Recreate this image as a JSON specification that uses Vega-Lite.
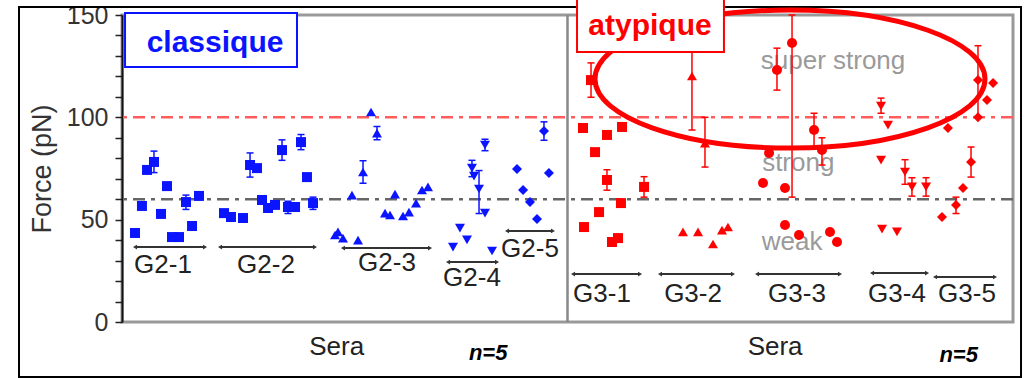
{
  "$schema": "https://vega.github.io/schema/vega-lite/v6.json",
  "width": 891,
  "height": 307,
  "autosize": {"type": "none"},
  "padding": {"left": 122, "top": 15, "right": 13, "bottom": 56},
  "background": "white",
  "config": {
    "view": {"stroke": "#999999", "strokeWidth": 3},
    "font": "Liberation Sans",
    "axisX": {"disable": true},
    "axisY": {
      "tickCount": 15,
      "labelExpr": "datum.value % 50 === 0 ? datum.label : ''",
      "labelOverlap": false, "labelFlush": false, "labelBound": false,
      "grid": false, "domainColor": "#111111", "domainWidth": 2,
      "tickColor": "#222222", "tickWidth": 1.5, "tickSize": 7,
      "labelFontSize": 25, "labelColor": "#333333", "labelPadding": 7,
      "titleFontSize": 27, "titleFontWeight": "normal", "titleColor": "#333333", "titlePadding": 10
    }
  },
  "datasets": {
    "pts": [
      {"g": "G2-1", "s": "G2", "x": 1.46, "y": 43.5},
      {"g": "G2-1", "s": "G2", "x": 2.24, "y": 56.7},
      {"g": "G2-1", "s": "G2", "x": 2.81, "y": 74.3},
      {"g": "G2-1", "s": "G2", "x": 3.59, "y": 78.2, "lo": 73, "hi": 83.5},
      {"g": "G2-1", "s": "G2", "x": 5.05, "y": 66.4},
      {"g": "G2-1", "s": "G2", "x": 4.38, "y": 52.8},
      {"g": "G2-1", "s": "G2", "x": 5.61, "y": 41.5},
      {"g": "G2-1", "s": "G2", "x": 6.4, "y": 41.5},
      {"g": "G2-1", "s": "G2", "x": 7.18, "y": 58.6, "lo": 55, "hi": 62},
      {"g": "G2-1", "s": "G2", "x": 7.86, "y": 46.9},
      {"g": "G2-1", "s": "G2", "x": 8.64, "y": 61.6},
      {"g": "G2-2", "s": "G2", "x": 11.45, "y": 53.2},
      {"g": "G2-2", "s": "G2", "x": 12.23, "y": 51.3},
      {"g": "G2-2", "s": "G2", "x": 13.58, "y": 50.8},
      {"g": "G2-2", "s": "G2", "x": 14.37, "y": 76.7, "lo": 70.8, "hi": 82.6},
      {"g": "G2-2", "s": "G2", "x": 15.15, "y": 75.2},
      {"g": "G2-2", "s": "G2", "x": 15.71, "y": 59.6},
      {"g": "G2-2", "s": "G2", "x": 16.39, "y": 55.7},
      {"g": "G2-2", "s": "G2", "x": 17.17, "y": 57.2},
      {"g": "G2-2", "s": "G2", "x": 17.96, "y": 84.0, "lo": 79, "hi": 89},
      {"g": "G2-2", "s": "G2", "x": 18.63, "y": 56.2, "lo": 53, "hi": 59},
      {"g": "G2-2", "s": "G2", "x": 19.42, "y": 56.2},
      {"g": "G2-2", "s": "G2", "x": 20.09, "y": 87.9, "lo": 84.2, "hi": 91.6},
      {"g": "G2-2", "s": "G2", "x": 20.76, "y": 70.8},
      {"g": "G2-2", "s": "G2", "x": 21.44, "y": 58.1, "lo": 55, "hi": 61},
      {"g": "G2-3", "s": "G2", "x": 23.91, "y": 42.5},
      {"g": "G2-3", "s": "G2", "x": 24.24, "y": 44},
      {"g": "G2-3", "s": "G2", "x": 24.8, "y": 41},
      {"g": "G2-3", "s": "G2", "x": 26.49, "y": 40},
      {"g": "G2-3", "s": "G2", "x": 25.81, "y": 62},
      {"g": "G2-3", "s": "G2", "x": 27.05, "y": 73.3, "lo": 67.8, "hi": 78.8},
      {"g": "G2-3", "s": "G2", "x": 27.95, "y": 102.6},
      {"g": "G2-3", "s": "G2", "x": 28.62, "y": 92.3, "lo": 89, "hi": 95.5},
      {"g": "G2-3", "s": "G2", "x": 29.52, "y": 53.2},
      {"g": "G2-3", "s": "G2", "x": 30.08, "y": 52.3},
      {"g": "G2-3", "s": "G2", "x": 30.64, "y": 62.5},
      {"g": "G2-3", "s": "G2", "x": 31.54, "y": 51.8},
      {"g": "G2-3", "s": "G2", "x": 32.21, "y": 53.7},
      {"g": "G2-3", "s": "G2", "x": 33.0, "y": 58.1},
      {"g": "G2-3", "s": "G2", "x": 33.67, "y": 64.5},
      {"g": "G2-3", "s": "G2", "x": 34.34, "y": 66},
      {"g": "G2-4", "s": "G2", "x": 37.15, "y": 36.6},
      {"g": "G2-4", "s": "G2", "x": 37.93, "y": 45.9},
      {"g": "G2-4", "s": "G2", "x": 38.72, "y": 40.1},
      {"g": "G2-4", "s": "G2", "x": 39.28, "y": 75.2, "lo": 71, "hi": 79},
      {"g": "G2-4", "s": "G2", "x": 39.51, "y": 71.3},
      {"g": "G2-4", "s": "G2", "x": 40.07, "y": 65.0, "lo": 53, "hi": 74},
      {"g": "G2-4", "s": "G2", "x": 40.74, "y": 53.2},
      {"g": "G2-4", "s": "G2", "x": 40.74, "y": 86.5, "lo": 83.7, "hi": 89.3},
      {"g": "G2-4", "s": "G2", "x": 41.53, "y": 34.7},
      {"g": "G2-5", "s": "G2", "x": 44.33, "y": 74.7},
      {"g": "G2-5", "s": "G2", "x": 45.01, "y": 64.5},
      {"g": "G2-5", "s": "G2", "x": 45.79, "y": 58.6},
      {"g": "G2-5", "s": "G2", "x": 46.58, "y": 50.3},
      {"g": "G2-5", "s": "G2", "x": 47.36, "y": 93.3, "lo": 88.8, "hi": 97.8},
      {"g": "G2-5", "s": "G2", "x": 47.92, "y": 72.8},
      {"g": "G3-1", "s": "G3", "x": 52.64, "y": 118.2, "lo": 109.8, "hi": 126.6},
      {"g": "G3-1", "s": "G3", "x": 51.74, "y": 94.8},
      {"g": "G3-1", "s": "G3", "x": 54.43, "y": 91.4},
      {"g": "G3-1", "s": "G3", "x": 56.12, "y": 95.3},
      {"g": "G3-1", "s": "G3", "x": 53.09, "y": 83.0},
      {"g": "G3-1", "s": "G3", "x": 54.43, "y": 69.4, "lo": 64.4, "hi": 74.4},
      {"g": "G3-1", "s": "G3", "x": 58.59, "y": 66, "lo": 61, "hi": 71},
      {"g": "G3-1", "s": "G3", "x": 51.85, "y": 46.4},
      {"g": "G3-1", "s": "G3", "x": 53.54, "y": 53.7},
      {"g": "G3-1", "s": "G3", "x": 56.0, "y": 58.1},
      {"g": "G3-1", "s": "G3", "x": 54.99, "y": 39.1},
      {"g": "G3-1", "s": "G3", "x": 55.67, "y": 41.0},
      {"g": "G3-2", "s": "G3", "x": 63.97, "y": 120.2, "lo": 93.8, "hi": 132.8},
      {"g": "G3-2", "s": "G3", "x": 65.43, "y": 87.4, "lo": 75.7, "hi": 100},
      {"g": "G3-2", "s": "G3", "x": 62.96, "y": 44},
      {"g": "G3-2", "s": "G3", "x": 64.65, "y": 44},
      {"g": "G3-2", "s": "G3", "x": 66.33, "y": 38.1},
      {"g": "G3-2", "s": "G3", "x": 67.34, "y": 44.9},
      {"g": "G3-2", "s": "G3", "x": 68.01, "y": 46.4},
      {"g": "G3-3", "s": "G3", "x": 75.2, "y": 136.3, "lo": 61, "hi": 150},
      {"g": "G3-3", "s": "G3", "x": 73.51, "y": 123.1, "lo": 113.3, "hi": 133.8},
      {"g": "G3-3", "s": "G3", "x": 72.62, "y": 82.6},
      {"g": "G3-3", "s": "G3", "x": 71.94, "y": 67.9},
      {"g": "G3-3", "s": "G3", "x": 74.41, "y": 65.5},
      {"g": "G3-3", "s": "G3", "x": 74.41, "y": 47.4},
      {"g": "G3-3", "s": "G3", "x": 75.98, "y": 42.5},
      {"g": "G3-3", "s": "G3", "x": 77.67, "y": 93.8, "lo": 85.5, "hi": 102},
      {"g": "G3-3", "s": "G3", "x": 78.56, "y": 84.0, "lo": 76.7, "hi": 90},
      {"g": "G3-3", "s": "G3", "x": 79.46, "y": 44},
      {"g": "G3-3", "s": "G3", "x": 80.25, "y": 39.1},
      {"g": "G3-4", "s": "G3", "x": 85.19, "y": 105.5, "lo": 102, "hi": 109.4},
      {"g": "G3-4", "s": "G3", "x": 85.97, "y": 96.2},
      {"g": "G3-4", "s": "G3", "x": 85.19, "y": 79.1},
      {"g": "G3-4", "s": "G3", "x": 87.88, "y": 73.3, "lo": 67.3, "hi": 79.3},
      {"g": "G3-4", "s": "G3", "x": 88.66, "y": 66, "lo": 61.5, "hi": 70.5},
      {"g": "G3-4", "s": "G3", "x": 90.24, "y": 66, "lo": 61.5, "hi": 70.5},
      {"g": "G3-4", "s": "G3", "x": 85.3, "y": 45.4},
      {"g": "G3-4", "s": "G3", "x": 86.98, "y": 44},
      {"g": "G3-5", "s": "G3", "x": 92.7, "y": 94.8},
      {"g": "G3-5", "s": "G3", "x": 96.07, "y": 118.2, "lo": 100, "hi": 135},
      {"g": "G3-5", "s": "G3", "x": 97.76, "y": 116.8},
      {"g": "G3-5", "s": "G3", "x": 97.08, "y": 108.5},
      {"g": "G3-5", "s": "G3", "x": 96.07, "y": 100.1},
      {"g": "G3-5", "s": "G3", "x": 95.29, "y": 78.2, "lo": 70.8, "hi": 85.5},
      {"g": "G3-5", "s": "G3", "x": 92.03, "y": 51.3},
      {"g": "G3-5", "s": "G3", "x": 93.6, "y": 57.2, "lo": 53, "hi": 61},
      {"g": "G3-5", "s": "G3", "x": 94.39, "y": 65.5}
    ],
    "groups": [
      {"label": "G2-1", "x": 4.6, "y": 27.8, "x1": 1.46, "x2": 9.32, "ly": 36.6},
      {"label": "G2-2", "x": 16.16, "y": 27.8, "x1": 11.0, "x2": 21.66, "ly": 36.6},
      {"label": "G2-3", "x": 29.74, "y": 28.8, "x1": 24.8, "x2": 34.57, "ly": 36.1},
      {"label": "G2-4", "x": 39.28, "y": 21.5, "x1": 36.59, "x2": 42.09, "ly": 29.3},
      {"label": "G2-5", "x": 45.79, "y": 35.7, "x1": 43.21, "x2": 48.37, "ly": 44.5},
      {"label": "G3-1", "x": 53.87, "y": 13.7, "x1": 50.62, "x2": 58.14, "ly": 23.4},
      {"label": "G3-2", "x": 64.09, "y": 13.7, "x1": 60.38, "x2": 68.57, "ly": 23.4},
      {"label": "G3-3", "x": 75.76, "y": 13.7, "x1": 71.27, "x2": 80.58, "ly": 23.4},
      {"label": "G3-4", "x": 86.98, "y": 13.7, "x1": 84.18, "x2": 90.35, "ly": 23.9},
      {"label": "G3-5", "x": 94.84, "y": 13.7, "x1": 91.25, "x2": 97.98, "ly": 22.0}
    ]
  },
  "layer": [
    {
      "data": {"values": [{"x1": -11.56, "x2": 100.9, "y1": 153.9, "y2": -26.9}]},
      "mark": {"type": "rect", "fill": null, "stroke": "#000000", "strokeWidth": 2},
      "encoding": {
        "x": {"field": "x1", "type": "quantitative", "scale": {"domain": [0, 100], "nice": false}},
        "x2": {"field": "x2"},
        "y": {"field": "y1", "type": "quantitative", "scale": {"domain": [0, 150], "nice": false}, "title": "Force (pN)"},
        "y2": {"field": "y2"}
      }
    },
    {
      "data": {"values": [{"v": 100}]},
      "mark": {"type": "rule", "stroke": "#ff5c5c", "strokeWidth": 2.5, "strokeDash": [12, 6, 4, 6]},
      "encoding": {"y": {"field": "v", "type": "quantitative", "title": "Force (pN)"}}
    },
    {
      "data": {"values": [{"v": 60}]},
      "mark": {"type": "rule", "stroke": "#666666", "strokeWidth": 2.5, "strokeDash": [12, 6, 4, 6]},
      "encoding": {"y": {"field": "v", "type": "quantitative", "title": "Force (pN)"}}
    },
    {
      "data": {"values": [{"x": 50, "y1": 0, "y2": 150}]},
      "mark": {"type": "rule", "stroke": "#888888", "strokeWidth": 2.5},
      "encoding": {
        "x": {"field": "x", "type": "quantitative"},
        "y": {"field": "y1", "type": "quantitative", "title": "Force (pN)"},
        "y2": {"field": "y2"}
      }
    },
    {
      "data": {"values": [
        {"t": "super strong", "x": 79.8, "y": 127.5},
        {"t": "strong", "x": 75.9, "y": 77.7},
        {"t": "weak", "x": 75.2, "y": 39.1}
      ]},
      "mark": {"type": "text", "fontSize": 26, "color": "#9a9a9a", "align": "center", "baseline": "middle"},
      "encoding": {
        "x": {"field": "x", "type": "quantitative"},
        "y": {"field": "y", "type": "quantitative", "title": "Force (pN)"},
        "text": {"field": "t"}
      }
    },
    {
      "data": {"name": "pts"},
      "transform": [{"filter": "isValid(datum.lo)"}],
      "mark": {"type": "rule", "strokeWidth": 1.5},
      "encoding": {
        "x": {"field": "x", "type": "quantitative"},
        "y": {"field": "lo", "type": "quantitative", "title": "Force (pN)"},
        "y2": {"field": "hi"},
        "color": {"field": "s", "type": "nominal", "scale": {"domain": ["G2", "G3"], "range": ["#0a14ff", "#ff0000"]}, "legend": null}
      }
    },
    {
      "data": {"name": "pts"},
      "transform": [{"filter": "isValid(datum.lo)"}],
      "mark": {"type": "tick", "orient": "horizontal", "size": 7, "thickness": 1.5, "opacity": 1},
      "encoding": {
        "x": {"field": "x", "type": "quantitative"},
        "y": {"field": "lo", "type": "quantitative", "title": "Force (pN)"},
        "color": {"field": "s", "type": "nominal", "legend": null}
      }
    },
    {
      "data": {"name": "pts"},
      "transform": [{"filter": "isValid(datum.hi)"}],
      "mark": {"type": "tick", "orient": "horizontal", "size": 7, "thickness": 1.5, "opacity": 1},
      "encoding": {
        "x": {"field": "x", "type": "quantitative"},
        "y": {"field": "hi", "type": "quantitative", "title": "Force (pN)"},
        "color": {"field": "s", "type": "nominal", "legend": null}
      }
    },
    {
      "data": {"name": "pts"},
      "mark": {"type": "point", "filled": true, "size": 100, "opacity": 1},
      "encoding": {
        "x": {"field": "x", "type": "quantitative"},
        "y": {"field": "y", "type": "quantitative", "title": "Force (pN)"},
        "color": {"field": "s", "type": "nominal", "legend": null},
        "shape": {"field": "g", "type": "nominal", "legend": null,
          "scale": {"domain": ["G2-1", "G2-2", "G2-3", "G2-4", "G2-5", "G3-1", "G3-2", "G3-3", "G3-4", "G3-5"],
                    "range": ["square", "square", "triangle-up", "triangle-down", "diamond", "square", "triangle-up", "circle", "triangle-down", "diamond"]}}
      }
    },
    {
      "data": {"name": "groups"},
      "mark": {"type": "rule", "stroke": "#333333", "strokeWidth": 2},
      "encoding": {
        "x": {"field": "x1", "type": "quantitative"},
        "x2": {"field": "x2"},
        "y": {"field": "ly", "type": "quantitative", "title": "Force (pN)"}
      }
    },
    {
      "data": {"name": "groups"},
      "mark": {"type": "point", "shape": "triangle-left", "size": 22, "filled": true, "color": "#333333", "opacity": 1},
      "encoding": {
        "x": {"field": "x1", "type": "quantitative"},
        "y": {"field": "ly", "type": "quantitative", "title": "Force (pN)"}
      }
    },
    {
      "data": {"name": "groups"},
      "mark": {"type": "point", "shape": "triangle-right", "size": 22, "filled": true, "color": "#333333", "opacity": 1},
      "encoding": {
        "x": {"field": "x2", "type": "quantitative"},
        "y": {"field": "ly", "type": "quantitative", "title": "Force (pN)"}
      }
    },
    {
      "data": {"name": "groups"},
      "mark": {"type": "text", "fontSize": 26, "color": "#222222", "align": "center", "baseline": "middle"},
      "encoding": {
        "x": {"field": "x", "type": "quantitative"},
        "y": {"field": "y", "type": "quantitative", "title": "Force (pN)"},
        "text": {"field": "label"}
      }
    },
    {
      "data": {"values": [{"x": 74.97, "y": 118.7}]},
      "mark": {"type": "point", "shape": "M -1 0 C -1 -0.1955 -0.5523 -0.354 0 -0.354 C 0.5523 -0.354 1 -0.1955 1 0 C 1 0.1955 0.5523 0.354 0 0.354 C -0.5523 0.354 -1 0.1955 -1 0 Z",
        "size": 152100, "filled": false, "stroke": "#ff0000", "strokeWidth": 5, "opacity": 1},
      "encoding": {
        "x": {"field": "x", "type": "quantitative"},
        "y": {"field": "y", "type": "quantitative", "title": "Force (pN)"}
      }
    },
    {
      "data": {"values": [{"x1": 0.34, "x2": 19.64, "y1": 150.95, "y2": 124.57}]},
      "mark": {"type": "rect", "fill": "white", "stroke": "#0a14ff", "strokeWidth": 2},
      "encoding": {
        "x": {"field": "x1", "type": "quantitative"},
        "x2": {"field": "x2"},
        "y": {"field": "y1", "type": "quantitative", "title": "Force (pN)"},
        "y2": {"field": "y2"}
      }
    },
    {
      "data": {"values": [{"x1": 51.07, "x2": 67.56, "y1": 158.3, "y2": 131.9}]},
      "mark": {"type": "rect", "fill": "white", "stroke": "#ff0000", "strokeWidth": 2},
      "encoding": {
        "x": {"field": "x1", "type": "quantitative"},
        "x2": {"field": "x2"},
        "y": {"field": "y1", "type": "quantitative", "title": "Force (pN)"},
        "y2": {"field": "y2"}
      }
    },
    {
      "data": {"values": [{"t": "classique", "x": 10.44, "y": 131.9}]},
      "mark": {"type": "text", "fontSize": 30, "fontWeight": "bold", "color": "#0a14ff", "align": "center", "baseline": "alphabetic"},
      "encoding": {
        "x": {"field": "x", "type": "quantitative"},
        "y": {"field": "y", "type": "quantitative", "title": "Force (pN)"},
        "text": {"field": "t"}
      }
    },
    {
      "data": {"values": [{"t": "atypique", "x": 59.26, "y": 140.2}]},
      "mark": {"type": "text", "fontSize": 30, "fontWeight": "bold", "color": "#ff0000", "align": "center", "baseline": "alphabetic"},
      "encoding": {
        "x": {"field": "x", "type": "quantitative"},
        "y": {"field": "y", "type": "quantitative", "title": "Force (pN)"},
        "text": {"field": "t"}
      }
    },
    {
      "data": {"values": [{"t": "Sera", "x": 24.1, "y": -12.2}, {"t": "Sera", "x": 73.3, "y": -12.2}]},
      "mark": {"type": "text", "fontSize": 26, "color": "#222222", "align": "center", "baseline": "middle"},
      "encoding": {
        "x": {"field": "x", "type": "quantitative"},
        "y": {"field": "y", "type": "quantitative", "title": "Force (pN)"},
        "text": {"field": "t"}
      }
    },
    {
      "data": {"values": [{"t": "n=5", "x": 41.1, "y": -15.1}, {"t": "n=5", "x": 93.9, "y": -16}]},
      "mark": {"type": "text", "fontSize": 22, "fontWeight": "bold", "fontStyle": "italic", "color": "#000000", "align": "center", "baseline": "middle"},
      "encoding": {
        "x": {"field": "x", "type": "quantitative"},
        "y": {"field": "y", "type": "quantitative", "title": "Force (pN)"},
        "text": {"field": "t"}
      }
    }
  ]
}
